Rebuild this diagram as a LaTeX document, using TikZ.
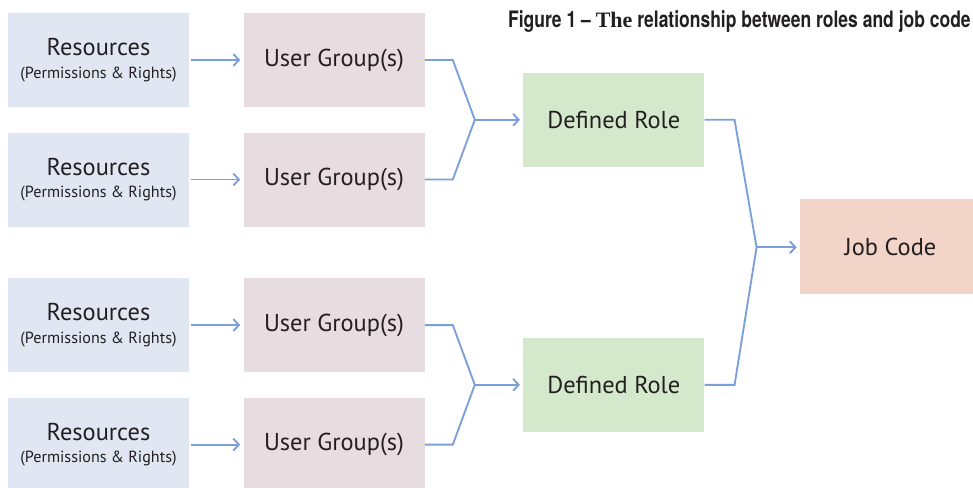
\documentclass[tikz,border=0pt]{standalone}
\usepackage{fontspec}
\setmainfont{PT Sans}
\newfontfamily\titlefont[FakeStretch=0.772,Ligatures=TeX]{TeX Gyre Heros}
\newfontfamily\titleserif{Liberation Serif}
\usetikzlibrary{positioning,calc,arrows.meta}

\definecolor{resblue}{HTML}{E0E7F3}
\definecolor{grppink}{HTML}{E7DCE0}
\definecolor{rolegreen}{HTML}{D4E9CC}
\definecolor{jobpeach}{HTML}{F2D4C8}
\definecolor{linkblue}{HTML}{7B9FD8}
\definecolor{inkgray}{HTML}{231F20}

\newcommand{\resourcetext}{Resources\\[-3pt]{\fontsize{12.1}{13}\selectfont(Permissions \& Rights)}}

\begin{document}
\begin{tikzpicture}[
    x=0.75pt, y=-0.75pt,
    font=\fontsize{18.3}{20}\selectfont,
    text=inkgray,
    >={Straight Barb[length=4.2pt,width=9pt]},
    box/.style={
        minimum width=135.75pt, minimum height=70.5pt,
        inner sep=0pt, align=center
    },
    res/.style={box, fill=resblue},
    grp/.style={box, fill=grppink},
    role/.style={box, fill=rolegreen},
    job/.style={box, fill=jobpeach},
    link/.style={draw=linkblue, line width=1.4pt},
    feed/.style={link, ->, shorten <=1.5pt, shorten >=2.3pt},
]
\useasboundingbox (0,0) rectangle (973,488);
\clip (0,0) rectangle (973,488);

% ---- Resources and user groups -------------------------------------
\node[res] (res1) at (98.5,60) {\resourcetext};
\node[res, below=18.75pt of res1] (res2) {\resourcetext};
\node[res, below=38.25pt of res2] (res3) {\resourcetext};
\node[res, below=18.75pt of res3] (res4) {\resourcetext};

\node[grp, right=40.5pt of res1] (grp1) {User Group(s)};
\node[grp, right=40.5pt of res2] (grp2) {User Group(s)};
\node[grp, right=40.5pt of res3] (grp3) {User Group(s)};
\node[grp, right=40.5pt of res4] (grp4) {User Group(s)};

% ---- Roles and job code --------------------------------------------
\node[role] (role1) at ($(grp1.east)!.5!(grp2.east)+(189,0)$) {Defined Role};
\node[role] (role2) at ($(grp3.east)!.5!(grp4.east)+(189,0)$) {Defined Role};
\node[job] (job) at (890.5,246.5) {Job Code};

% ---- Title ---------------------------------------------------------
\node[anchor=base east, inner sep=0pt, font=\titlefont\bfseries\fontsize{17}{19}\selectfont]
    (title) at (971,28) {Figure 1 -- {\titleserif\fontsize{16.5}{19}\selectfont The} relationship between roles and job code};

% ---- Join points ---------------------------------------------------
\coordinate (join1) at ($(grp1.east)!.5!(grp2.east)+(50,0)$);
\coordinate (join2) at ($(grp3.east)!.5!(grp4.east)+(50,0)$);
\coordinate (join3) at ($(role1.east)!.5!(role2.east)+(52,-5)$);

% ---- Connectors ----------------------------------------------------
\foreach \i in {1,...,4}
    \draw[feed] (res\i) -- (grp\i);

\draw[link] (grp1.east) -- ++(28,0) -- (join1);
\draw[link] (grp2.east) -- ++(28,0) -- (join1);
\draw[link] (grp3.east) -- ++(28,0) -- (join2);
\draw[link] (grp4.east) -- ++(28,0) -- (join2);
\draw[link] (role1.east) -- ++(30,0) -- (join3);
\draw[link] (role2.east) -- ++(30,0) -- (join3);

\draw[feed, shorten <=0pt] (join1) -- (role1);
\draw[feed, shorten <=0pt] (join2) -- (role2);
\draw[feed, shorten <=0pt] (join3) -- (job.west |- join3);

\end{tikzpicture}
\end{document}
